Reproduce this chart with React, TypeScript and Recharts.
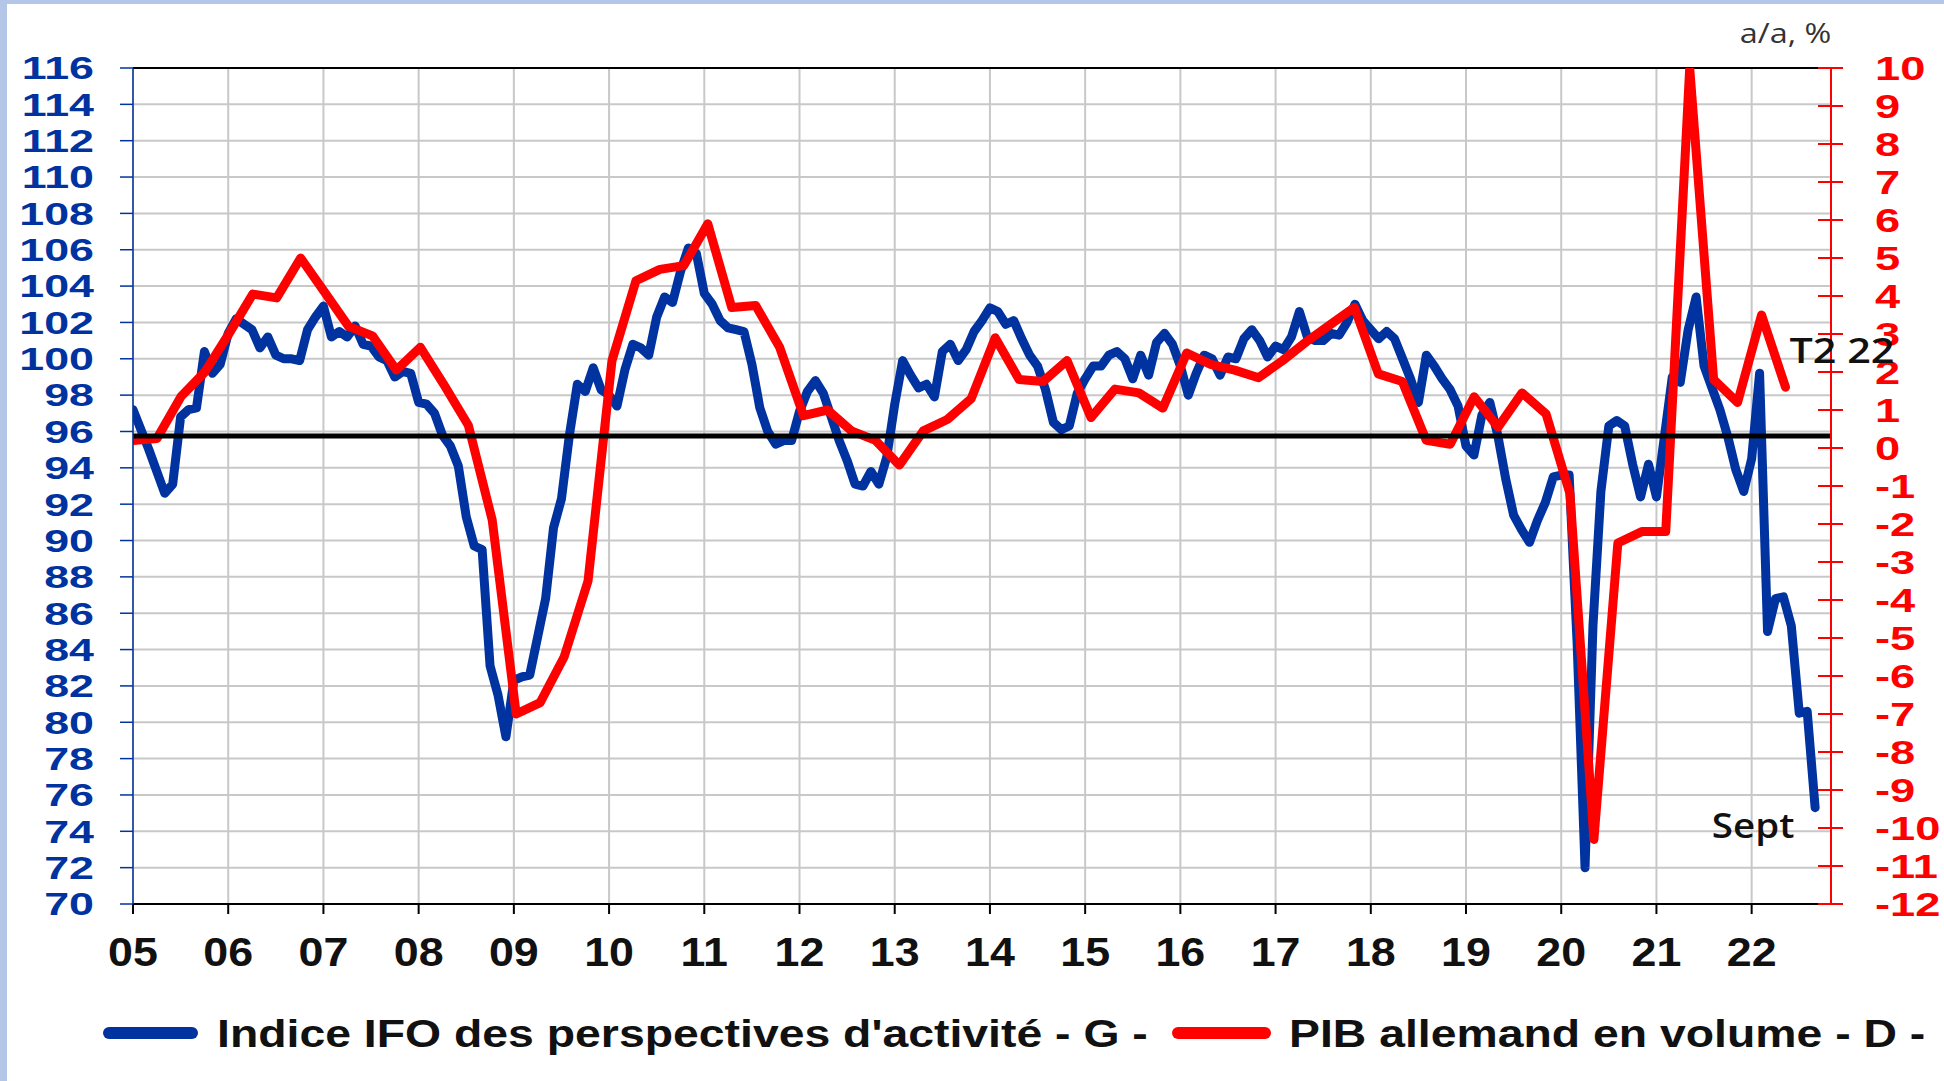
import React from 'react';
import { LineChart, Line, XAxis, YAxis, CartesianGrid, ReferenceLine } from 'recharts';

// Indice IFO des perspectives d'activité, mensuel, janv. 2005 -> sept. 2022
const IFO = [
  97.2, 96.1, 95.0, 93.8, 92.6, 93.1, 96.8, 97.2, 97.3, 100.4, 99.2, 99.7,
  101.4, 102.2, 101.9, 101.6, 100.6, 101.2, 100.2, 100.0, 100.0, 99.9, 101.6, 102.3,
  102.9, 101.2, 101.5, 101.2, 101.8, 100.8, 100.7, 100.1, 99.9, 99.0, 99.3, 99.2,
  97.6, 97.5, 97.0, 95.8, 95.2, 94.1, 91.3, 89.7, 89.5, 83.1, 81.5, 79.2,
  82.3, 82.5, 82.6, 84.7, 86.8, 90.7, 92.3, 95.8, 98.6, 98.2, 99.5, 98.3,
  98.0, 97.4, 99.4, 100.8, 100.6, 100.2, 102.3, 103.4, 103.1, 104.8, 106.1, 105.8,
  103.6, 103.0, 102.1, 101.7, 101.6, 101.5, 99.7, 97.3, 96.0, 95.3, 95.5, 95.5,
  97.1, 98.2, 98.8, 98.1, 96.8, 95.5, 94.4, 93.1, 93.0, 93.8, 93.1, 94.6,
  97.5, 99.9, 99.1, 98.4, 98.6, 97.9, 100.4, 100.8, 99.9, 100.5, 101.5, 102.1,
  102.8, 102.6, 101.9, 102.1, 101.1, 100.2, 99.6, 98.3, 96.5, 96.1, 96.3, 98.1,
  98.9, 99.6, 99.6, 100.2, 100.4, 100.0, 98.9, 100.2, 99.1, 100.9, 101.4, 100.8,
  99.6, 98.0, 99.2, 100.2, 100.0, 99.1, 100.1, 100.0, 101.1, 101.6, 101.0, 100.1,
  100.7, 100.5, 101.2, 102.6, 101.2, 101.0, 101.0, 101.4, 101.3, 102.0, 103.0, 102.1,
  101.6, 101.1, 101.5, 101.1, 100.0, 98.9, 97.6, 100.2, 99.6, 98.9, 98.3, 97.4,
  95.2, 94.7, 96.9, 97.6, 95.8, 93.4, 91.4, 90.6, 89.9, 91.1, 92.1, 93.5,
  93.6, 93.6, 84.4, 72.0, 85.3, 92.7, 96.3, 96.6, 96.3, 94.2, 92.4, 94.2,
  92.4, 95.7, 99.0, 98.7, 101.6, 103.4, 99.6, 98.4, 97.2, 95.7, 93.9, 92.7,
  94.5, 99.2, 85.0, 86.8, 86.9, 85.3, 80.5, 80.6, 75.3,
];

// PIB allemand en volume, a/a %, trimestriel, T1 2005 -> T2 2022
const PIB = [
  0.2, 0.25, 1.35, 2.0,
  3.0, 4.05, 3.95, 5.0,
  4.1, 3.2, 2.95, 2.05,
  2.65, 1.65, 0.6, -1.9,
  -7.0, -6.7, -5.5, -3.5,
  2.3, 4.4, 4.7, 4.8,
  5.9, 3.7, 3.75, 2.65,
  0.85, 1.0, 0.45, 0.2,
  -0.45, 0.45, 0.75, 1.3,
  2.9, 1.8, 1.75, 2.3,
  0.8, 1.55, 1.45, 1.05,
  2.5, 2.2, 2.05, 1.85,
  2.3, 2.8, 3.25, 3.7,
  1.95, 1.75, 0.2, 0.1,
  1.35, 0.55, 1.45, 0.9,
  -1.2, -10.3, -2.5, -2.2,
  -2.2, 10.0, 1.8, 1.2,
  3.5, 1.6,
];

const YEAR_LABELS = ['05', '06', '07', '08', '09', '10', '11', '12', '13', '14', '15', '16', '17', '18', '19', '20', '21', '22'];
const LEFT_TICKS = [70, 72, 74, 76, 78, 80, 82, 84, 86, 88, 90, 92, 94, 96, 98, 100, 102, 104, 106, 108, 110, 112, 114, 116];
const RIGHT_TICKS = [-12, -11, -10, -9, -8, -7, -6, -5, -4, -3, -2, -1, 0, 1, 2, 3, 4, 5, 6, 7, 8, 9, 10];
const IFO_AVERAGE = 95.75;

const BLUE = '#0033a0';
const RED = '#ff0000';
const FONT = '"Liberation Sans", Arial, sans-serif';

const ifoRows = IFO.map((v, i) => ({ m: i, ifo: v }));
// the GDP series sits on its own (hidden) quarterly category axis
const pibRows = PIB.map((v, i) => ({ q: i, pib: v }));
const yearTicks = YEAR_LABELS.map((_, i) => i * 12);

function LeftTick({ x, y, payload }: any) {
  return (
    <text transform={`translate(${x},${y}) scale(1.4,1)`} dy="0.355em" textAnchor="end"
      fill={BLUE} fontFamily={FONT} fontWeight={700} fontSize={32}>
      {payload.value}
    </text>
  );
}

function RightTick({ x, y, payload }: any) {
  return (
    <g>
      <line x1={x - 13} x2={x + 12} y1={y} y2={y} stroke={RED} strokeWidth={2} />
      <text transform={`translate(${x + 44},${y}) scale(1.35,1)`} dy="0.355em"
        fill={RED} fontFamily={FONT} fontWeight={700} fontSize={33.5}>
        {payload.value}
      </text>
    </g>
  );
}

function YearTick({ x, y, payload }: any) {
  return (
    <text transform={`translate(${x},${y}) scale(1.12,1)`} dy="0.71em" textAnchor="middle"
      fill="#111" fontFamily={FONT} fontWeight={700} fontSize={40}>
      {YEAR_LABELS[Math.round(payload.value / 12)]}
    </text>
  );
}

function endLabel(last: number, text: string, dx: number, dy: number, anchor: string, sx: number) {
  return (p: any) => {
    if (p.index !== last) return <g />;
    return (
      <text
        transform={`translate(${p.x + dx},${p.y + dy}) scale(${sx},1)`}
        textAnchor={anchor}
        fill="#111"
        fontFamily='"Open Sans", sans-serif'
        fontWeight={600}
        fontSize={35}
      >
        {text}
      </text>
    );
  };
}

const legendText: React.CSSProperties = {
  position: 'absolute',
  top: 1013,
  fontFamily: FONT,
  fontWeight: 700,
  fontSize: 38,
  lineHeight: '42px',
  whiteSpace: 'nowrap',
  color: '#111',
  transform: 'scaleX(1.22)',
  transformOrigin: 'left center',
};

export default function App() {
  return (
    <div style={{ position: 'absolute', left: 0, top: 0, width: 1944, height: 1081, background: '#fff', overflow: 'hidden' }}>
      <div style={{ position: 'absolute', left: 0, top: 0, width: 1944, height: 4, background: '#b4c6e7' }} />
      <div style={{ position: 'absolute', left: 0, top: 0, width: 7, height: 1081, background: '#b4c6e7' }} />

      <div style={{
        position: 'absolute', right: 113, top: 14, fontFamily: '"Open Sans", sans-serif', fontSize: 27,
        color: '#333', transform: 'scaleX(1.2)', transformOrigin: 'right center',
      }}>
        a/a, %
      </div>

      <LineChart width={1944} height={1081} margin={{ top: 68, right: 0, bottom: 97, left: 0 }}>
        <CartesianGrid yAxisId="left" stroke="#c8c8c8" strokeWidth={2} />
        <XAxis
          type="number"
          dataKey="m"
          domain={[0, 214]}
          ticks={yearTicks}
          interval={0}
          height={80}
          stroke="#000"
          strokeWidth={2}
          tickSize={10}
          tickMargin={24}
          tick={<YearTick />}
          allowDataOverflow
        />
        <XAxis xAxisId="q" type="number" dataKey="q" domain={[0, 70.9]} hide allowDataOverflow />
        <YAxis
          yAxisId="left"
          domain={[70, 116]}
          ticks={LEFT_TICKS}
          interval={0}
          width={133}
          stroke={BLUE}
          strokeWidth={1.5}
          tickSize={13}
          tickMargin={26}
          tick={<LeftTick />}
          allowDataOverflow
        />
        <YAxis
          yAxisId="right"
          orientation="right"
          domain={[-12, 10]}
          ticks={RIGHT_TICKS}
          interval={0}
          width={113}
          stroke={RED}
          strokeWidth={2}
          tickSize={0}
          tickMargin={0}
          tickLine={false}
          tick={<RightTick />}
          allowDataOverflow
        />
        <ReferenceLine yAxisId="left" y={116} stroke="#000" strokeWidth={2} />
        <Line
          yAxisId="left"
          data={ifoRows}
          dataKey="ifo"
          stroke={BLUE}
          strokeWidth={9}
          strokeLinejoin="round"
          strokeLinecap="round"
          dot={false}
          activeDot={false}
          isAnimationActive={false}
          label={endLabel(IFO.length - 1, 'Sept', -62, 30, 'middle', 1.1)}
        />
        <Line
          xAxisId="q"
          yAxisId="right"
          data={pibRows}
          dataKey="pib"
          stroke={RED}
          strokeWidth={9}
          strokeLinejoin="round"
          strokeLinecap="round"
          dot={false}
          activeDot={false}
          isAnimationActive={false}
          label={endLabel(PIB.length - 1, 'T2 22', 4, -24, 'start', 1.18)}
        />
        <ReferenceLine yAxisId="left" y={IFO_AVERAGE} stroke="#000" strokeWidth={5} />
      </LineChart>

      <div style={{ position: 'absolute', left: 103, top: 1027, width: 95, height: 12, borderRadius: 6, background: BLUE }} />
      <div style={{ ...legendText, left: 217 }}>Indice IFO des perspectives d'activité - G -</div>
      <div style={{ position: 'absolute', left: 1172, top: 1027, width: 99, height: 12, borderRadius: 6, background: RED }} />
      <div style={{ ...legendText, left: 1289 }}>PIB allemand en volume - D -</div>
    </div>
  );
}
